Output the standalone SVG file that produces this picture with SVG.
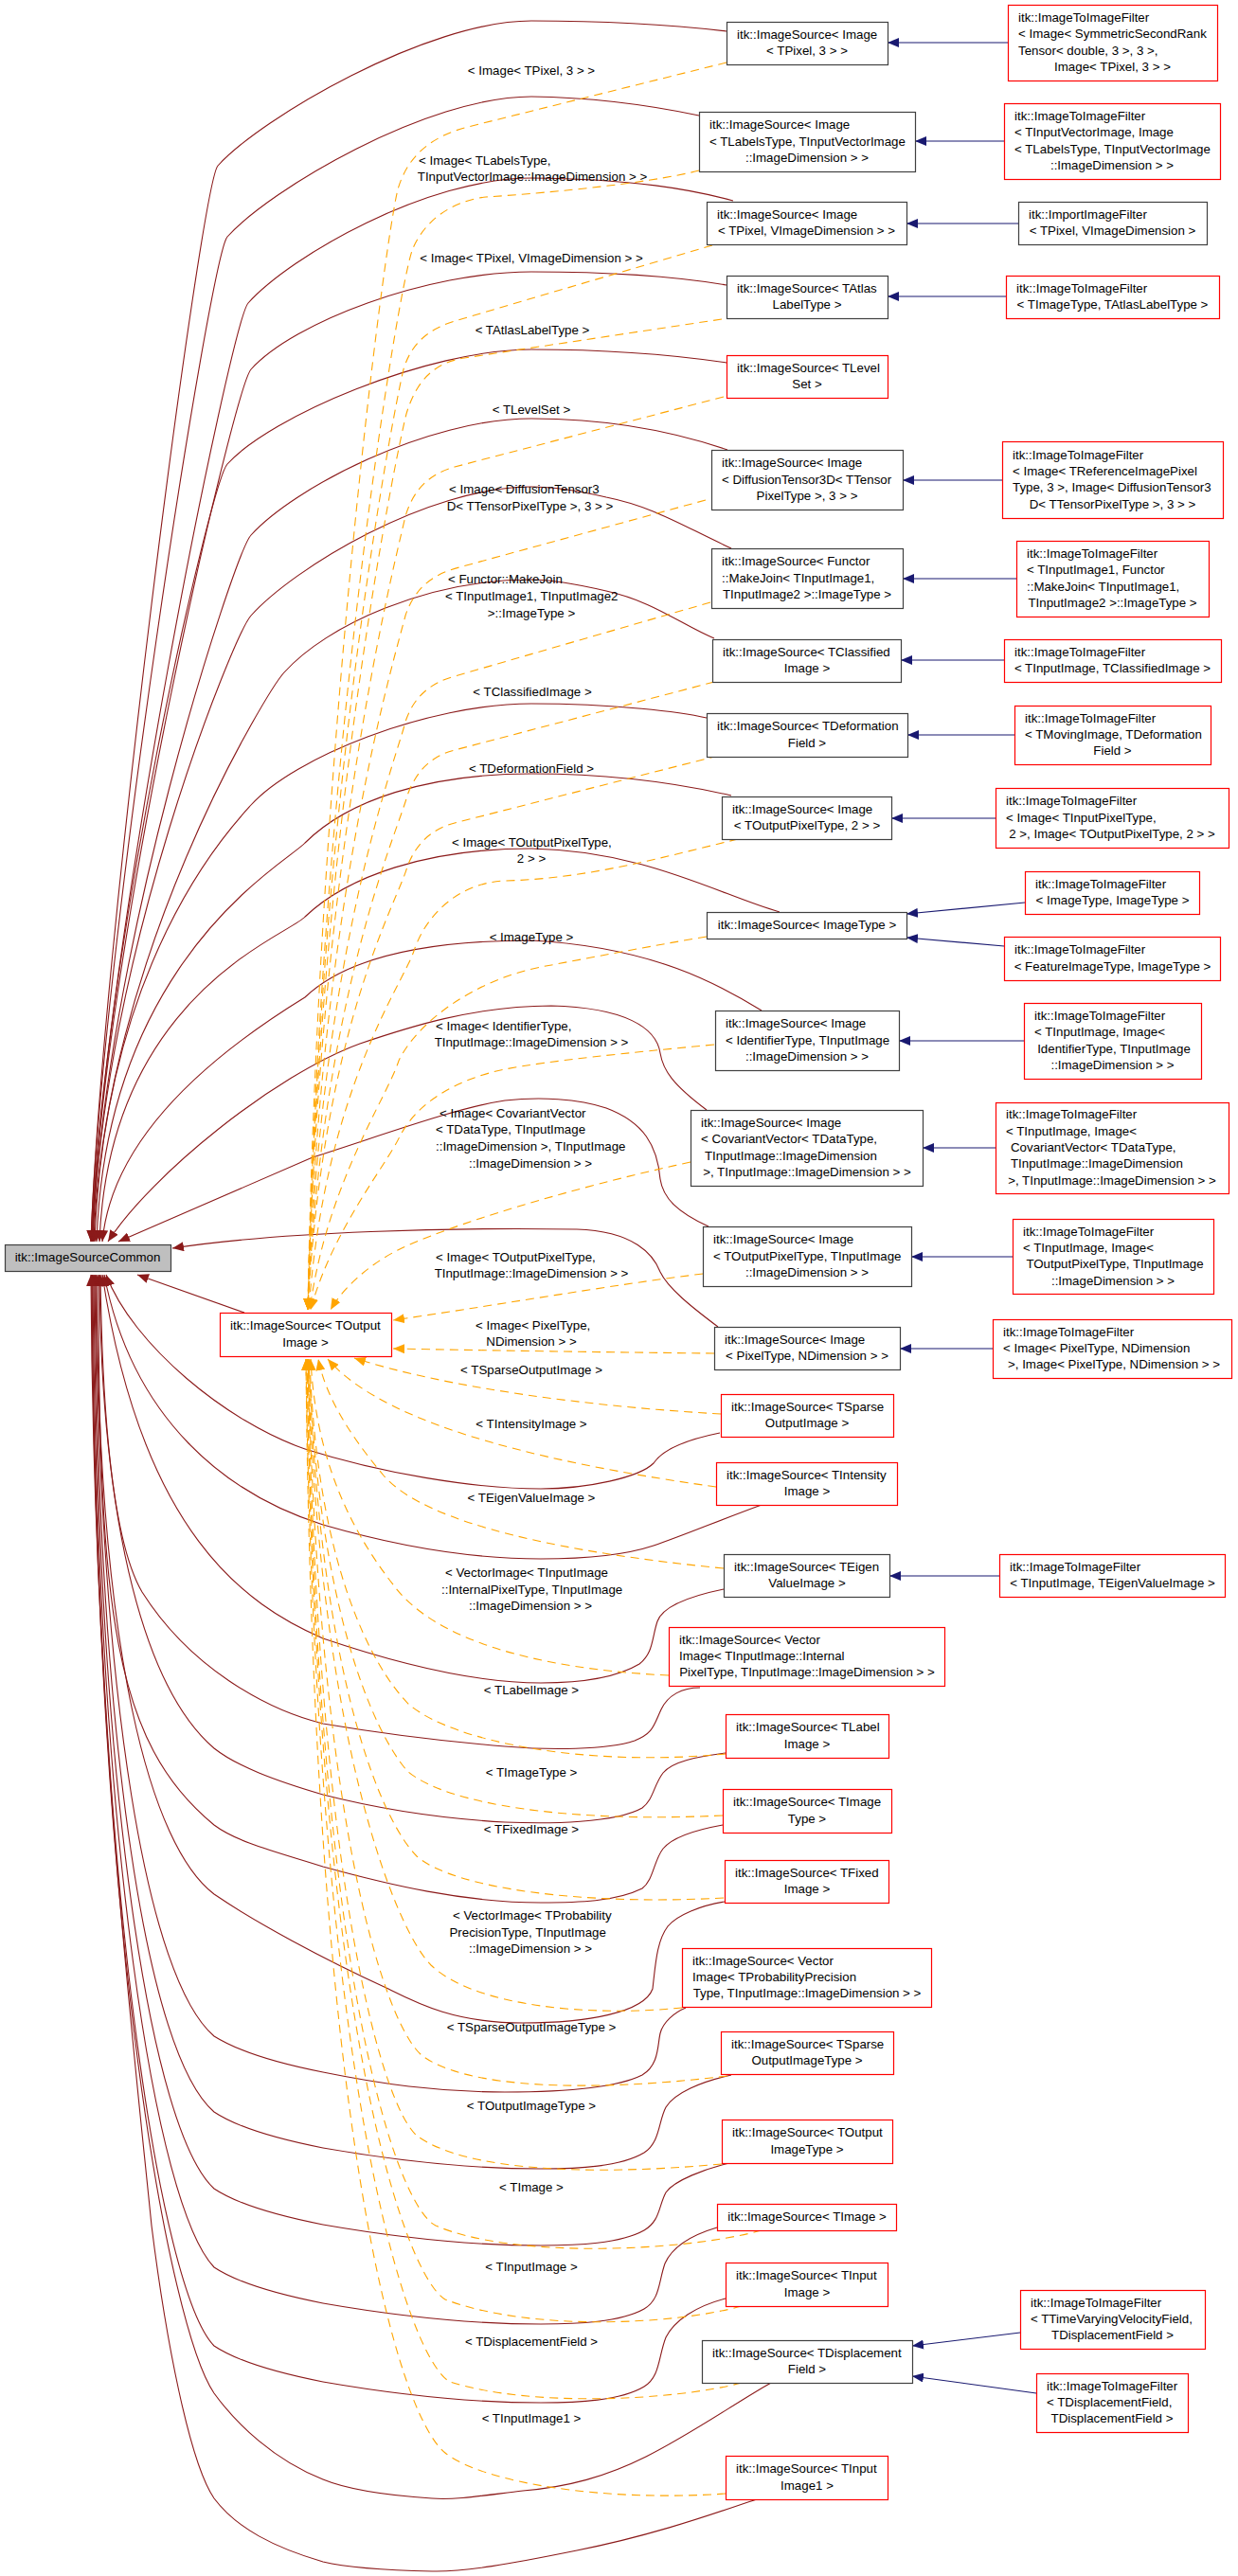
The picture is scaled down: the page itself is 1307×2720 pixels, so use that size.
<svg xmlns="http://www.w3.org/2000/svg" width="1307" height="2720" viewBox="0 0 1307 2720">
<style>
text{font-family:"Liberation Sans",Arial,Helvetica,sans-serif;font-size:13.3px;fill:#000}
.c{text-anchor:middle}
.nb{fill:#fff;stroke:#404040;stroke-width:1.2}
.nr{fill:#fff;stroke:#ff0000;stroke-width:1.2}
.ng{fill:#bfbfbf;stroke:#404040;stroke-width:1.2}
.b{fill:none;stroke:#8b1a1a;stroke-width:1.1;marker-end:url(#ab)}
.o{fill:none;stroke:#ffa500;stroke-width:1.1;stroke-dasharray:9,6;marker-end:url(#ao)}
.n{fill:none;stroke:#191970;stroke-width:1.1;marker-end:url(#an)}
</style>
<defs>
<marker id="ab" viewBox="0 0 12 10" refX="12" refY="5" markerWidth="12" markerHeight="10" orient="auto" markerUnits="userSpaceOnUse"><path d="M0,0L12,5L0,10z" fill="#8b1a1a"/></marker>
<marker id="ao" viewBox="0 0 12 10" refX="12" refY="5" markerWidth="12" markerHeight="10" orient="auto" markerUnits="userSpaceOnUse"><path d="M0,0L12,5L0,10z" fill="#ffa500"/></marker>
<marker id="an" viewBox="0 0 12 10" refX="12" refY="5" markerWidth="12" markerHeight="10" orient="auto" markerUnits="userSpaceOnUse"><path d="M0,0L12,5L0,10z" fill="#191970"/></marker>
</defs>
<rect width="1307" height="2720" fill="#fff"/>
<g id="connectors">
<path class="b" d="M767,33 C700,25 640,22 561,22 C451,22 275,125 230,175 C212,195 106,1011 96,1311"/>
<path class="b" d="M738,122 C700,114 640,103 561,102 C451,102 285,200 240,250 C222,270 106,1011 96,1311"/>
<path class="b" d="M774,212 C730,200 670,189 561,188 C451,188 307,270 262,320 C244,340 107,1011 97,1311"/>
<path class="b" d="M767,301 C720,293 660,287 561,287 C451,287 310,340 265,390 C247,410 107,1011 97,1311"/>
<path class="b" d="M767,383 C720,376 650,369 561,369 C451,369 285,440 240,490 C222,510 107,1011 97,1311"/>
<path class="b" d="M768,475 C730,462 660,442 561,442 C451,442 310,515 265,565 C247,585 108,1011 98,1311"/>
<path class="b" d="M772,579 C720,555 690,535 640,525 C610,518 585,514 561,514 C451,514 310,600 265,650 C247,670 108,1011 98,1311"/>
<path class="b" d="M754,674 C720,660 690,635 640,624 C610,617 585,612 561,612 C451,612 345,660 300,710 C282,730 109,1011 99,1311"/>
<path class="b" d="M746,758 C720,752 650,743 561,743 C451,743 310,800 265,850 C247,870 110,1011 100,1311"/>
<path class="b" d="M772,840 C720,828 650,817 561,817 C451,817 367,845 322,890 C304,910 112,1011 102,1311"/>
<path class="b" d="M823,963 C760,945 680,898 561,896 C451,896 367,925 322,968 C304,988 115,1050 105,1311"/>
<path class="b" d="M804,1067 C760,1040 690,1000 561,993 C451,993 367,1010 322,1053 C270,1085 120,1180 108,1311"/>
<path class="b" d="M746,1172 C710,1145 700,1130 697,1112 C693,1085 660,1064 582,1062 C500,1062 430,1085 380,1102 C290,1135 160,1240 114,1311"/>
<path class="b" d="M748,1295 C715,1280 700,1265 697,1245 C694,1210 680,1185 640,1170 C610,1160 570,1158 533,1162 C480,1170 400,1200 330,1222 L125,1311"/>
<path class="b" d="M758,1401 C730,1380 705,1360 697,1343 C690,1325 670,1300 609,1298 C480,1296 300,1300 182,1318"/>
<path class="b" d="M258,1386 L145,1346"/>
<path class="b" d="M760,1513 C725,1520 700,1530 690,1545 C675,1560 620,1572 571,1572 C500,1572 400,1555 322,1530 C240,1502 140,1420 112,1346"/>
<path class="b" d="M804,1589 C760,1605 720,1622 690,1632 C660,1642 620,1646 571,1646 C490,1646 410,1630 341,1610 C240,1578 140,1500 110,1346"/>
<path class="b" d="M764,1678 C730,1685 700,1695 694,1712 C688,1730 690,1745 675,1757 C650,1772 610,1777 571,1777 C490,1777 400,1750 341,1730 C260,1695 150,1620 108,1346"/>
<path class="b" d="M739,1782 C720,1782 705,1790 698,1805 C690,1822 690,1830 670,1838 C640,1848 580,1848 533,1844 C460,1838 400,1830 341,1820 C280,1805 200,1760 150,1681 C120,1630 108,1500 106,1346"/>
<path class="b" d="M766,1851 C735,1855 710,1860 700,1872 C690,1885 690,1900 678,1909 C650,1925 580,1926 533,1924 C460,1920 400,1910 341,1895 C290,1880 250,1865 226,1846 C156,1786 107,1621 105,1346"/>
<path class="b" d="M763,1927 C735,1932 710,1940 700,1952 C690,1965 690,1985 678,1994 C650,2008 610,2009 571,2009 C490,2009 410,1990 341,1971 C290,1955 250,1945 226,1927 C120,1840 104,1700 104,1346"/>
<path class="b" d="M765,2008 C740,2012 715,2022 705,2034 C693,2050 692,2075 689,2100 C680,2125 620,2136 552,2136 C480,2136 440,2115 410,2100 C340,2068 270,2030 226,2000 C160,1950 103,1750 102,1346"/>
<path class="b" d="M724,2120 C712,2125 700,2135 697,2147 C694,2160 696,2180 678,2191 C650,2205 590,2209 533,2209 C460,2209 400,2200 341,2188 C290,2178 250,2165 226,2150 C156,2090 105,1800 101,1346"/>
<path class="b" d="M772,2191 C740,2198 712,2210 703,2225 C695,2240 697,2262 680,2273 C655,2288 610,2290 571,2290 C490,2290 410,2280 341,2268 C290,2258 250,2246 226,2230 C156,2170 104,1850 100,1346"/>
<path class="b" d="M770,2284 C745,2290 712,2302 703,2315 C695,2330 697,2345 680,2355 C655,2369 610,2371 571,2371 C490,2371 410,2361 341,2349 C290,2339 250,2327 226,2311 C160,2250 103,1900 99,1346"/>
<path class="b" d="M757,2352 C730,2360 710,2372 702,2390 C695,2410 697,2428 680,2438 C655,2452 610,2454 571,2454 C490,2454 410,2444 341,2432 C290,2422 250,2410 226,2394 C165,2330 102,1950 98,1346"/>
<path class="b" d="M766,2427 C735,2435 712,2450 703,2468 C695,2488 697,2510 680,2520 C655,2535 610,2537 571,2537 C490,2537 410,2527 341,2515 C290,2505 250,2493 226,2477 C170,2420 101,2000 97,1346"/>
<path class="b" d="M814,2516 C780,2535 730,2570 682,2594 C640,2615 600,2626 552,2630 C510,2635 480,2640 456,2638 C410,2635 370,2630 341,2618 C290,2598 250,2560 226,2527 C180,2460 100,2050 97,1346"/>
<path class="b" d="M799,2639 C770,2648 700,2675 609,2693 C540,2707 490,2716 456,2715 C410,2714 370,2712 341,2705 C290,2690 250,2670 226,2638 C200,2600 175,2470 160,2350 C140,2150 98,1800 96,1346"/>
<path class="o" d="M767,66 L494,134 C455,144 430,165 420,200 C405,260 335,800 325,1383"/>
<path class="o" d="M738,180 C680,195 560,205 513,208 C480,212 450,230 436,262 C420,300 336,820 325,1383"/>
<path class="o" d="M752,259 L480,339 C455,347 435,360 426,390 C414,440 336,850 325,1383"/>
<path class="o" d="M762,337 L490,378 C460,383 440,400 429,437 C418,480 336,880 325,1383"/>
<path class="o" d="M764,419 L480,493 C455,500 437,515 428,545 C418,590 337,900 325,1383"/>
<path class="o" d="M745,528 L485,599 C458,606 438,620 428,650 C418,690 338,950 325,1383"/>
<path class="o" d="M750,636 L480,714 C455,721 437,735 428,762 C419,800 339,1000 325,1383"/>
<path class="o" d="M754,720 L480,792 C457,798 440,812 430,840 C421,875 340,1050 325,1383"/>
<path class="o" d="M758,798 L480,869 C457,875 440,889 430,915 C421,950 341,1080 325,1383"/>
<path class="o" d="M779,886 C700,905 620,928 533,930 C485,932 450,965 437,1004 C425,1040 343,1150 326,1383"/>
<path class="o" d="M746,989 C680,1000 620,1012 571,1021 C500,1035 440,1080 421,1120 C408,1160 345,1250 327,1383"/>
<path class="o" d="M754,1103 C660,1112 580,1120 533,1129 C480,1140 440,1165 422,1200 C408,1230 350,1300 328,1383"/>
<path class="o" d="M729,1227 C600,1255 470,1295 420,1320 C390,1335 362,1360 349,1383"/>
<path class="o" d="M742,1345 C650,1356 500,1382 415,1394"/>
<path class="o" d="M754,1429 C650,1428 520,1426 415,1424"/>
<path class="o" d="M761,1493 C620,1485 470,1465 374,1434"/>
<path class="o" d="M756,1570 C600,1548 410,1510 346,1435"/>
<path class="o" d="M764,1656 C600,1640 450,1610 405,1558 C375,1522 345,1480 336,1435"/>
<path class="o" d="M706,1769 C560,1762 460,1730 418,1677 C385,1635 334,1560 328,1435"/>
<path class="o" d="M766,1852 C620,1866 480,1840 432,1800 C392,1760 334,1650 327,1435"/>
<path class="o" d="M763,1917 C600,1925 470,1905 430,1870 C395,1830 336,1700 326,1435"/>
<path class="o" d="M764,2004 C620,2012 480,1995 440,1960 C405,1925 338,1780 326,1435"/>
<path class="o" d="M720,2120 C620,2130 500,2118 455,2075 C420,2040 338,1850 325,1435"/>
<path class="o" d="M768,2192 C620,2210 490,2205 445,2170 C410,2140 338,1950 325,1435"/>
<path class="o" d="M762,2285 C620,2298 490,2292 440,2255 C405,2225 335,2000 325,1435"/>
<path class="o" d="M804,2355 C720,2378 540,2385 460,2350 C420,2330 335,2100 324,1435"/>
<path class="o" d="M783,2435 C710,2455 560,2462 470,2428 C430,2405 333,2150 324,1435"/>
<path class="o" d="M783,2516 C710,2535 560,2542 475,2515 C430,2490 333,2200 323,1435"/>
<path class="o" d="M766,2633 C640,2642 510,2622 470,2590 C420,2550 330,2250 323,1435"/>
<path class="n" d="M1064,45 L937,45"/>
<path class="n" d="M1060,149 L966,149"/>
<path class="n" d="M1075,236 L957,236"/>
<path class="n" d="M1062,313 L937,313"/>
<path class="n" d="M1058,507 L953,507"/>
<path class="n" d="M1073,611 L953,611"/>
<path class="n" d="M1060,697 L951,697"/>
<path class="n" d="M1071,776 L958,776"/>
<path class="n" d="M1051,864 L941,864"/>
<path class="n" d="M1082,953 L957,965"/>
<path class="n" d="M1060,999 L957,990"/>
<path class="n" d="M1081,1099 L949,1099"/>
<path class="n" d="M1051,1212 L974,1212"/>
<path class="n" d="M1069,1327 L962,1327"/>
<path class="n" d="M1048,1424 L950,1424"/>
<path class="n" d="M1055,1664 L939,1664"/>
<path class="n" d="M1077,2463 L963,2477"/>
<path class="n" d="M1094,2527 L963,2509"/>
<g id="edge-labels">
<text class="c" x="561" y="79">&lt; Image&lt; TPixel, 3 &gt; &gt;</text>
<text x="442" y="173.6">&lt; Image&lt; TLabelsType,</text>
<text class="c" x="562" y="191">TInputVectorImage::ImageDimension &gt; &gt;</text>
<text class="c" x="561" y="276.7">&lt; Image&lt; TPixel, VImageDimension &gt; &gt;</text>
<text class="c" x="562" y="353">&lt; TAtlasLabelType &gt;</text>
<text class="c" x="561" y="436.5">&lt; TLevelSet &gt;</text>
<text x="474" y="521.3">&lt; Image&lt; DiffusionTensor3</text>
<text class="c" x="559.5" y="539">D&lt; TTensorPixelType &gt;, 3 &gt; &gt;</text>
<text x="473" y="616.4">&lt; Functor::MakeJoin</text>
<text x="470" y="633.8">&lt; TInputImage1, TInputImage2</text>
<text class="c" x="561" y="651.5">&gt;::ImageType &gt;</text>
<text class="c" x="562" y="735">&lt; TClassifiedImage &gt;</text>
<text class="c" x="561" y="816">&lt; TDeformationField &gt;</text>
<text x="477" y="893.6">&lt; Image&lt; TOutputPixelType,</text>
<text class="c" x="561" y="911">2 &gt; &gt;</text>
<text class="c" x="561" y="993.6">&lt; ImageType &gt;</text>
<text x="460" y="1088">&lt; Image&lt; IdentifierType,</text>
<text class="c" x="561" y="1105">TInputImage::ImageDimension &gt; &gt;</text>
<text x="464" y="1180">&lt; Image&lt; CovariantVector</text>
<text x="460" y="1197">&lt; TDataType, TInputImage</text>
<text x="460" y="1215">::ImageDimension &gt;, TInputImage</text>
<text class="c" x="560" y="1232.5">::ImageDimension &gt; &gt;</text>
<text x="460" y="1332">&lt; Image&lt; TOutputPixelType,</text>
<text class="c" x="561" y="1349">TInputImage::ImageDimension &gt; &gt;</text>
<text x="502" y="1404">&lt; Image&lt; PixelType,</text>
<text class="c" x="561" y="1421">NDimension &gt; &gt;</text>
<text class="c" x="561" y="1451">&lt; TSparseOutputImage &gt;</text>
<text class="c" x="561" y="1508">&lt; TIntensityImage &gt;</text>
<text class="c" x="561" y="1585.6">&lt; TEigenValueImage &gt;</text>
<text x="470" y="1665">&lt; VectorImage&lt; TInputImage</text>
<text x="466" y="1683">::InternalPixelType, TInputImage</text>
<text class="c" x="560" y="1700">::ImageDimension &gt; &gt;</text>
<text class="c" x="561" y="1789">&lt; TLabelImage &gt;</text>
<text class="c" x="561" y="1876">&lt; TImageType &gt;</text>
<text class="c" x="561" y="1936">&lt; TFixedImage &gt;</text>
<text x="478" y="2027">&lt; VectorImage&lt; TProbability</text>
<text x="474.5" y="2044.5">PrecisionType, TInputImage</text>
<text class="c" x="560" y="2061.5">::ImageDimension &gt; &gt;</text>
<text class="c" x="561" y="2145">&lt; TSparseOutputImageType &gt;</text>
<text class="c" x="561" y="2228">&lt; TOutputImageType &gt;</text>
<text class="c" x="561" y="2313.6">&lt; TImage &gt;</text>
<text class="c" x="561" y="2398">&lt; TInputImage &gt;</text>
<text class="c" x="561" y="2477">&lt; TDisplacementField &gt;</text>
<text class="c" x="561" y="2557.5">&lt; TInputImage1 &gt;</text>
</g>
</g>
<g id="isc"><rect class="ng" x="5.5" y="1314.5" width="175" height="28"/><text class="c" x="92.5" y="1332">itk::ImageSourceCommon</text></g>
<g id="toutput"><rect class="nr" x="232.5" y="1386.5" width="181" height="46"/><text x="243" y="1404.4">itk::ImageSource&lt; TOutput</text><text class="c" x="322.5" y="1421.7">Image &gt;</text></g>
<g id="n1"><rect class="nb" x="767.5" y="23.5" width="170" height="45"/><text x="778" y="40.9">itk::ImageSource&lt; Image</text><text class="c" x="852" y="58.2">&lt; TPixel, 3 &gt; &gt;</text></g>
<g id="n2"><rect class="nb" x="738.5" y="118.5" width="228" height="63"/><text x="749" y="136.2">itk::ImageSource&lt; Image</text><text x="749" y="153.5">&lt; TLabelsType, TInputVectorImage</text><text class="c" x="852" y="170.8">::ImageDimension &gt; &gt;</text></g>
<g id="n3"><rect class="nb" x="746.5" y="213.5" width="211" height="45"/><text x="757" y="230.9">itk::ImageSource&lt; Image</text><text class="c" x="851.5" y="248.2">&lt; TPixel, VImageDimension &gt; &gt;</text></g>
<g id="n4"><rect class="nb" x="767.5" y="291.5" width="170" height="45"/><text x="778" y="308.9">itk::ImageSource&lt; TAtlas</text><text class="c" x="852" y="326.2">LabelType &gt;</text></g>
<g id="n5"><rect class="nr" x="767.5" y="375.5" width="170" height="45"/><text x="778" y="392.9">itk::ImageSource&lt; TLevel</text><text class="c" x="852" y="410.2">Set &gt;</text></g>
<g id="n6"><rect class="nb" x="751.5" y="475.5" width="202" height="63"/><text x="762" y="493.2">itk::ImageSource&lt; Image</text><text x="762" y="510.5">&lt; DiffusionTensor3D&lt; TTensor</text><text class="c" x="852" y="527.8">PixelType &gt;, 3 &gt; &gt;</text></g>
<g id="n7"><rect class="nb" x="751.5" y="579.5" width="202" height="63"/><text x="762" y="597.2">itk::ImageSource&lt; Functor</text><text x="762" y="614.5">::MakeJoin&lt; TInputImage1,</text><text class="c" x="852" y="631.8">TInputImage2 &gt;::ImageType &gt;</text></g>
<g id="n8"><rect class="nb" x="752.5" y="675.5" width="199" height="45"/><text x="763" y="692.9">itk::ImageSource&lt; TClassified</text><text class="c" x="852" y="710.2">Image &gt;</text></g>
<g id="n9"><rect class="nb" x="746.5" y="753.5" width="212" height="46"/><text x="757" y="771.4">itk::ImageSource&lt; TDeformation</text><text class="c" x="852" y="788.7">Field &gt;</text></g>
<g id="n10"><rect class="nb" x="762.5" y="841.5" width="179" height="45"/><text x="773" y="858.9">itk::ImageSource&lt; Image</text><text class="c" x="852" y="876.2">&lt; TOutputPixelType, 2 &gt; &gt;</text></g>
<g id="n11"><rect class="nb" x="746.5" y="963.5" width="211" height="28"/><text class="c" x="852" y="981">itk::ImageSource&lt; ImageType &gt;</text></g>
<g id="n12"><rect class="nb" x="755.5" y="1067.5" width="194" height="63"/><text x="766" y="1085.2">itk::ImageSource&lt; Image</text><text x="766" y="1102.5">&lt; IdentifierType, TInputImage</text><text class="c" x="852" y="1119.8">::ImageDimension &gt; &gt;</text></g>
<g id="n13"><rect class="nb" x="729.5" y="1172.5" width="245" height="80"/><text x="740" y="1190">itk::ImageSource&lt; Image</text><text x="740" y="1207.4">&lt; CovariantVector&lt; TDataType,</text><text x="744" y="1224.7">TInputImage::ImageDimension</text><text class="c" x="852" y="1242">&gt;, TInputImage::ImageDimension &gt; &gt;</text></g>
<g id="n14"><rect class="nb" x="742.5" y="1295.5" width="220" height="63"/><text x="753" y="1313.2">itk::ImageSource&lt; Image</text><text x="753" y="1330.5">&lt; TOutputPixelType, TInputImage</text><text class="c" x="852" y="1347.8">::ImageDimension &gt; &gt;</text></g>
<g id="n15"><rect class="nb" x="754.5" y="1401.5" width="196" height="45"/><text x="765" y="1418.9">itk::ImageSource&lt; Image</text><text class="c" x="852" y="1436.2">&lt; PixelType, NDimension &gt; &gt;</text></g>
<g id="n16"><rect class="nr" x="761.5" y="1472.5" width="182" height="45"/><text x="772" y="1489.9">itk::ImageSource&lt; TSparse</text><text class="c" x="852" y="1507.2">OutputImage &gt;</text></g>
<g id="n17"><rect class="nr" x="756.5" y="1544.5" width="191" height="45"/><text x="767" y="1561.9">itk::ImageSource&lt; TIntensity</text><text class="c" x="852" y="1579.2">Image &gt;</text></g>
<g id="n18"><rect class="nb" x="764.5" y="1641.5" width="175" height="45"/><text x="775" y="1658.9">itk::ImageSource&lt; TEigen</text><text class="c" x="852" y="1676.2">ValueImage &gt;</text></g>
<g id="n19"><rect class="nr" x="706.5" y="1718.5" width="291" height="62"/><text x="717" y="1735.7">itk::ImageSource&lt; Vector</text><text x="717" y="1753">Image&lt; TInputImage::Internal</text><text class="c" x="852" y="1770.3">PixelType, TInputImage::ImageDimension &gt; &gt;</text></g>
<g id="n20"><rect class="nr" x="766.5" y="1810.5" width="172" height="46"/><text x="777" y="1828.4">itk::ImageSource&lt; TLabel</text><text class="c" x="852" y="1845.7">Image &gt;</text></g>
<g id="n21"><rect class="nr" x="763.5" y="1889.5" width="178" height="46"/><text x="774" y="1907.4">itk::ImageSource&lt; TImage</text><text class="c" x="852" y="1924.7">Type &gt;</text></g>
<g id="n22"><rect class="nr" x="765.5" y="1964.5" width="173" height="45"/><text x="776" y="1981.9">itk::ImageSource&lt; TFixed</text><text class="c" x="852" y="1999.2">Image &gt;</text></g>
<g id="n23"><rect class="nr" x="720.5" y="2057.5" width="263" height="62"/><text x="731" y="2074.7">itk::ImageSource&lt; Vector</text><text x="731" y="2092">Image&lt; TProbabilityPrecision</text><text class="c" x="852" y="2109.3">Type, TInputImage::ImageDimension &gt; &gt;</text></g>
<g id="n24"><rect class="nr" x="761.5" y="2145.5" width="182" height="45"/><text x="772" y="2162.9">itk::ImageSource&lt; TSparse</text><text class="c" x="852" y="2180.2">OutputImageType &gt;</text></g>
<g id="n25"><rect class="nr" x="762.5" y="2238.5" width="180" height="46"/><text x="773" y="2256.4">itk::ImageSource&lt; TOutput</text><text class="c" x="852" y="2273.7">ImageType &gt;</text></g>
<g id="n26"><rect class="nr" x="757.5" y="2327.5" width="189" height="28"/><text class="c" x="852" y="2345">itk::ImageSource&lt; TImage &gt;</text></g>
<g id="n27"><rect class="nr" x="766.5" y="2389.5" width="171" height="46"/><text x="777" y="2407.4">itk::ImageSource&lt; TInput</text><text class="c" x="852" y="2424.7">Image &gt;</text></g>
<g id="n28"><rect class="nb" x="741.5" y="2471.5" width="222" height="45"/><text x="752" y="2488.9">itk::ImageSource&lt; TDisplacement</text><text class="c" x="852" y="2506.2">Field &gt;</text></g>
<g id="n29"><rect class="nr" x="766.5" y="2593.5" width="171" height="46"/><text x="777" y="2611.4">itk::ImageSource&lt; TInput</text><text class="c" x="852" y="2628.7">Image1 &gt;</text></g>
<g id="f1"><rect class="nr" x="1064.5" y="5.5" width="221" height="80"/><text x="1075" y="23.1">itk::ImageToImageFilter</text><text x="1075" y="40.4">&lt; Image&lt; SymmetricSecondRank</text><text x="1075" y="57.7">Tensor&lt; double, 3 &gt;, 3 &gt;,</text><text class="c" x="1174.5" y="75">Image&lt; TPixel, 3 &gt; &gt;</text></g>
<g id="f2"><rect class="nr" x="1060.5" y="109.5" width="228" height="80"/><text x="1071" y="127.1">itk::ImageToImageFilter</text><text x="1071" y="144.4">&lt; TInputVectorImage, Image</text><text x="1071" y="161.7">&lt; TLabelsType, TInputVectorImage</text><text class="c" x="1174" y="179">::ImageDimension &gt; &gt;</text></g>
<g id="f3"><rect class="nb" x="1075.5" y="213.5" width="199" height="45"/><text x="1086" y="230.9">itk::ImportImageFilter</text><text class="c" x="1174.5" y="248.2">&lt; TPixel, VImageDimension &gt;</text></g>
<g id="f4"><rect class="nr" x="1062.5" y="291.5" width="225" height="45"/><text x="1073" y="308.9">itk::ImageToImageFilter</text><text class="c" x="1174.5" y="326.2">&lt; TImageType, TAtlasLabelType &gt;</text></g>
<g id="f6"><rect class="nr" x="1058.5" y="466.5" width="233" height="81"/><text x="1069" y="484.6">itk::ImageToImageFilter</text><text x="1069" y="501.9">&lt; Image&lt; TReferenceImagePixel</text><text x="1069" y="519.2">Type, 3 &gt;, Image&lt; DiffusionTensor3</text><text class="c" x="1174.5" y="536.5">D&lt; TTensorPixelType &gt;, 3 &gt; &gt;</text></g>
<g id="f7"><rect class="nr" x="1073.5" y="571.5" width="203" height="80"/><text x="1084" y="589.1">itk::ImageToImageFilter</text><text x="1084" y="606.4">&lt; TInputImage1, Functor</text><text x="1084" y="623.7">::MakeJoin&lt; TInputImage1,</text><text class="c" x="1174.5" y="641">TInputImage2 &gt;::ImageType &gt;</text></g>
<g id="f8"><rect class="nr" x="1060.5" y="675.5" width="229" height="45"/><text x="1071" y="692.9">itk::ImageToImageFilter</text><text class="c" x="1174.5" y="710.2">&lt; TInputImage, TClassifiedImage &gt;</text></g>
<g id="f9"><rect class="nr" x="1071.5" y="745.5" width="207" height="62"/><text x="1082" y="762.7">itk::ImageToImageFilter</text><text x="1082" y="780">&lt; TMovingImage, TDeformation</text><text class="c" x="1174.5" y="797.3">Field &gt;</text></g>
<g id="f10"><rect class="nr" x="1051.5" y="832.5" width="246" height="63"/><text x="1062" y="850.2">itk::ImageToImageFilter</text><text x="1062" y="867.5">&lt; Image&lt; TInputPixelType,</text><text class="c" x="1174" y="884.8">2 &gt;, Image&lt; TOutputPixelType, 2 &gt; &gt;</text></g>
<g id="f11a"><rect class="nr" x="1082.5" y="920.5" width="184" height="45"/><text x="1093" y="937.9">itk::ImageToImageFilter</text><text class="c" x="1174.5" y="955.2">&lt; ImageType, ImageType &gt;</text></g>
<g id="f11b"><rect class="nr" x="1060.5" y="989.5" width="228" height="46"/><text x="1071" y="1007.4">itk::ImageToImageFilter</text><text class="c" x="1174.5" y="1024.7">&lt; FeatureImageType, ImageType &gt;</text></g>
<g id="f12"><rect class="nr" x="1081.5" y="1059.5" width="187" height="80"/><text x="1092" y="1077.1">itk::ImageToImageFilter</text><text x="1092" y="1094.4">&lt; TInputImage, Image&lt;</text><text class="c" x="1176" y="1111.7">IdentifierType, TInputImage</text><text class="c" x="1174.5" y="1129">::ImageDimension &gt; &gt;</text></g>
<g id="f13"><rect class="nr" x="1051.5" y="1164.5" width="246" height="96"/><text x="1062" y="1181.4">itk::ImageToImageFilter</text><text x="1062" y="1198.7">&lt; TInputImage, Image&lt;</text><text x="1067" y="1216">CovariantVector&lt; TDataType,</text><text x="1067" y="1233.3">TInputImage::ImageDimension</text><text class="c" x="1174" y="1250.6">&gt;, TInputImage::ImageDimension &gt; &gt;</text></g>
<g id="f14"><rect class="nr" x="1069.5" y="1287.5" width="212" height="79"/><text x="1080" y="1304.6">itk::ImageToImageFilter</text><text x="1080" y="1321.9">&lt; TInputImage, Image&lt;</text><text class="c" x="1177" y="1339.2">TOutputPixelType, TInputImage</text><text class="c" x="1175" y="1356.5">::ImageDimension &gt; &gt;</text></g>
<g id="f15"><rect class="nr" x="1048.5" y="1393.5" width="252" height="62"/><text x="1059" y="1410.7">itk::ImageToImageFilter</text><text x="1059" y="1428">&lt; Image&lt; PixelType, NDimension</text><text class="c" x="1176" y="1445.3">&gt;, Image&lt; PixelType, NDimension &gt; &gt;</text></g>
<g id="f18"><rect class="nr" x="1055.5" y="1641.5" width="238" height="45"/><text x="1066" y="1658.9">itk::ImageToImageFilter</text><text class="c" x="1174.5" y="1676.2">&lt; TInputImage, TEigenValueImage &gt;</text></g>
<g id="f28a"><rect class="nr" x="1077.5" y="2418.5" width="195" height="62"/><text x="1088" y="2435.7">itk::ImageToImageFilter</text><text x="1088" y="2453">&lt; TTimeVaryingVelocityField,</text><text class="c" x="1174.5" y="2470.3">TDisplacementField &gt;</text></g>
<g id="f28b"><rect class="nr" x="1094.5" y="2506.5" width="160" height="62"/><text x="1105" y="2523.7">itk::ImageToImageFilter</text><text x="1105" y="2541">&lt; TDisplacementField,</text><text class="c" x="1174" y="2558.3">TDisplacementField &gt;</text></g>
</svg>
